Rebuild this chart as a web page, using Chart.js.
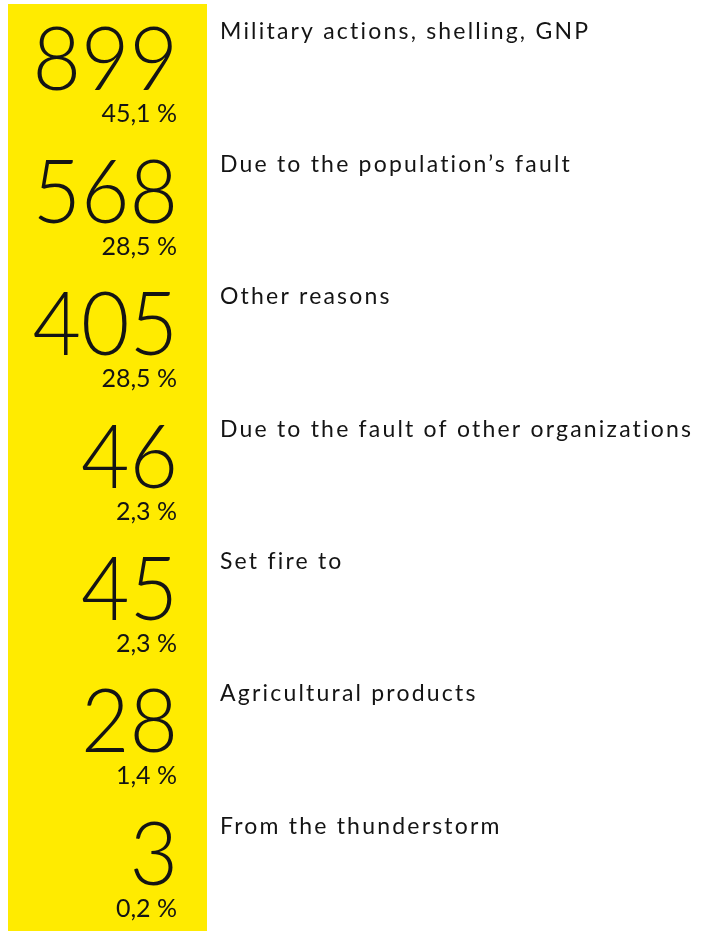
<!DOCTYPE html>
<html>
<head>
<meta charset="utf-8">
<script src="https://cdn.jsdelivr.net/npm/chart.js@4"></script>
<style>
body {margin:0; overflow:hidden; background:#fff;}
#wrap {width:702px; height:931px; position:relative;}
</style>
</head>
<body>
<div id="wrap"><canvas id="canvas"></canvas></div>
<script>
// causes of fires
var causes = ['Military actions, shelling, GNP', 'Due to the population\u2019s fault', 'Other reasons',
  'Due to the fault of other organizations', 'Set fire to', 'Agricultural products', 'From the thunderstorm'];
var counts = [899, 568, 405, 46, 45, 28, 3];
var shares = ['45,1 %', '28,5 %', '28,5 %', '2,3 %', '2,3 %', '1,4 %', '0,2 %'];
var band = [1, 1, 1, 1, 1, 1, 1];   // yellow column, same width for every row

var ink = '#141414';
var numFont = '300 89px Lato, "Open Sans", sans-serif';
var pctFont = '400 25px Lato, "Open Sans", sans-serif';
var lblFont = '400 23px Lato, "Open Sans", sans-serif';

// draws the numbers, shares and cause names on each row
var rowText = {
  id: 'rowText',
  afterDatasetsDraw: function(chart) {
    var ctx = chart.ctx;
    var area = chart.chartArea;
    var ys = chart.scales.y;
    var xr = area.right - 31;
    ctx.save();
    ctx.fillStyle = ink;
    ctx.textBaseline = 'alphabetic';
    for (var i = 0; i < counts.length; i++) {
      var y = ys.getPixelForValue(i);
      ctx.textAlign = 'right';
      // numbers a bit narrower than Lato
      ctx.save();
      ctx.translate(xr + 2, y + 20);
      ctx.scale(0.94, 1);
      ctx.font = numFont;
      ctx.fillText(String(counts[i]), 0, 0);
      ctx.restore();
      ctx.font = pctFont;
      ctx.fillText(shares[i], xr + 1, y + 52);
      ctx.textAlign = 'left';
      ctx.font = lblFont;
      ctx.letterSpacing = '2.2px';
      ctx.fillText(causes[i], area.right + 13, y - 31);
      ctx.letterSpacing = '0px';
    }
    ctx.restore();
  }
};

var ctx = document.getElementById('canvas').getContext('2d');
new Chart(ctx, {
  type: 'bar',
  data: {
    labels: causes,
    datasets: [{
      data: band,
      backgroundColor: '#FFEB00',
      borderWidth: 0,
      barPercentage: 1,
      categoryPercentage: 1
    }]
  },
  options: {
    indexAxis: 'y',
    responsive: true,
    maintainAspectRatio: false,
    animation: false,
    layout: {padding: {top: 4, bottom: 0, left: 8, right: 495}},
    plugins: {legend: {display: false}, tooltip: {enabled: false}},
    scales: {
      x: {display: false, min: 0, max: 1},
      y: {display: false}
    }
  },
  plugins: [rowText]
});
</script>
</body>
</html>
